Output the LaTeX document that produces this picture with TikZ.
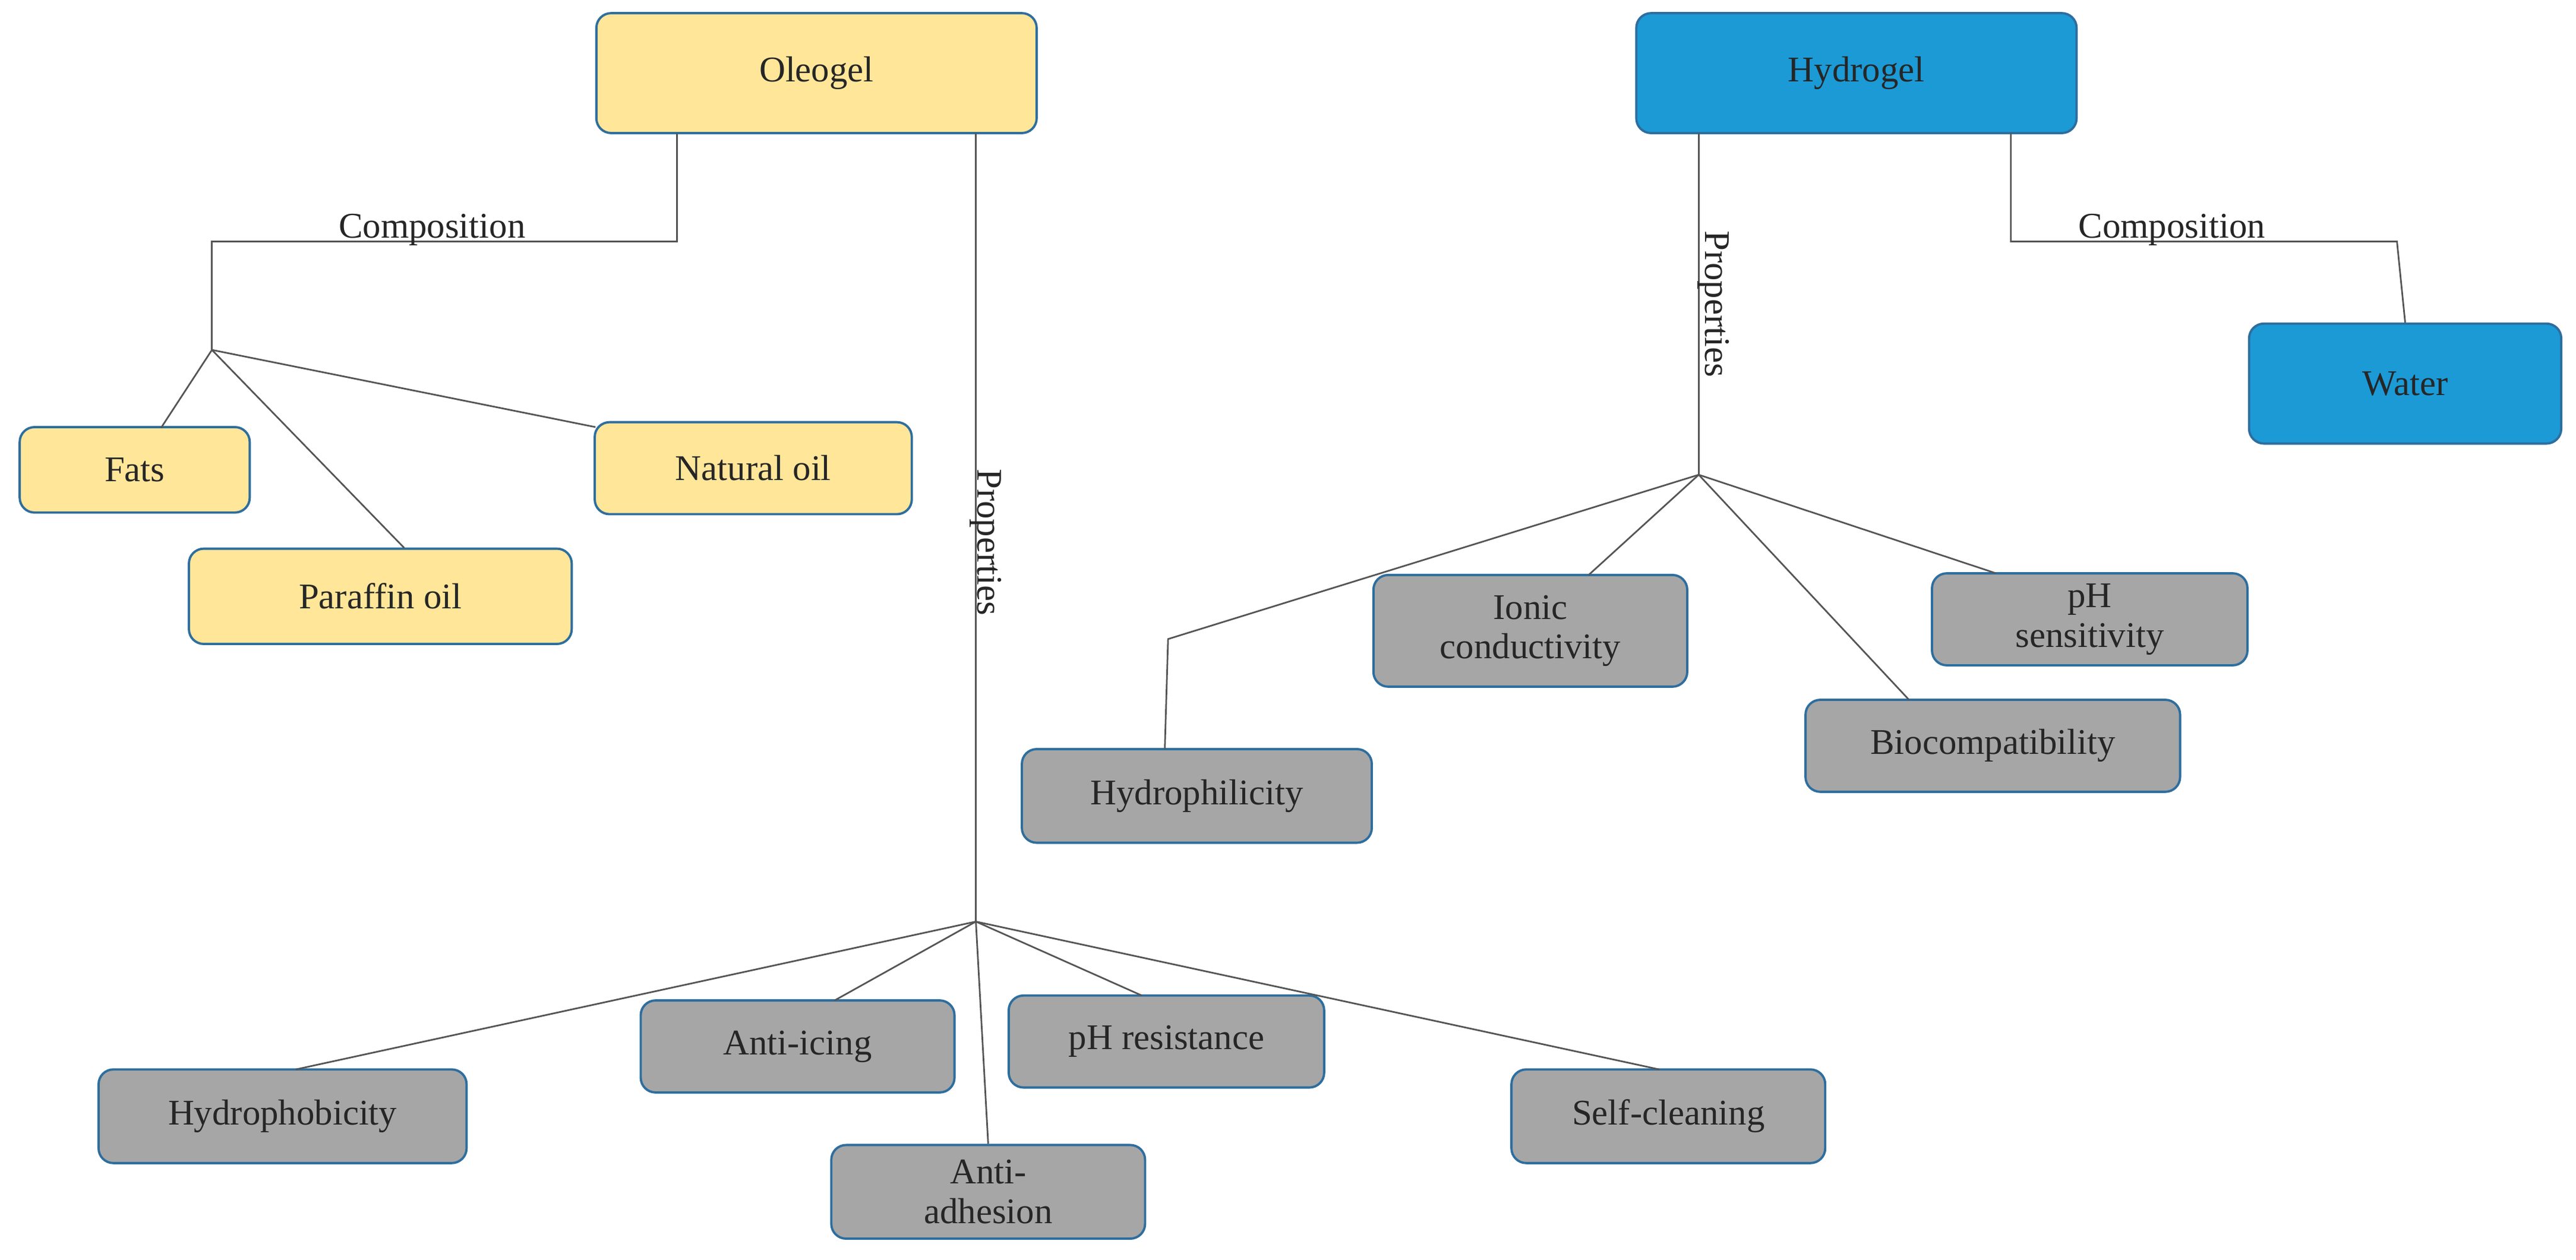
\documentclass[tikz,border=0pt]{standalone}
\usepackage{fontspec}
\setmainfont{Liberation Serif}
\begin{document}
\begin{tikzpicture}[x=1pt,y=-1pt,
 box/.style={draw=bord,line width=1.4pt,rounded corners=9pt,inner sep=0pt,align=center,font=\fontsize{22}{24}\selectfont,text=txt},
 yel/.style={box,fill=yel},
 blu/.style={box,fill=blu},
 gry/.style={box,fill=gry},
 ln/.style={draw=lin,line width=1pt},
 lab/.style={font=\fontsize{22}{24}\selectfont,text=txt,inner sep=1pt}]
\definecolor{yel}{HTML}{FFE699}
\definecolor{blu}{HTML}{1B9AD6}
\definecolor{gry}{HTML}{A6A6A6}
\definecolor{bord}{HTML}{2E6E9E}
\definecolor{lin}{HTML}{555555}
\definecolor{txt}{HTML}{262626}
\useasboundingbox (0,0) rectangle (1568,767);
\newcommand{\bx}[6]{\node[#1,minimum width=#4-#2,minimum height=#5-#3] (#6) at ({(#2+#4)/2},{(#3+#5)/2})}
\bx{yel}{363}{8}{631}{81}{oleo} {Oleogel};
\bx{blu}{996}{8}{1264}{81}{hydro} {Hydrogel};
\bx{blu}{1369}{197}{1559}{270}{water} {Water};
\bx{yel}{12}{260}{152}{312}{fats} {Fats};
\bx{yel}{115}{334}{348}{392}{paraf} {Paraffin oil};
\bx{yel}{362}{257}{555}{313}{nat} {Natural oil};
\bx{gry}{622}{456}{835}{513}{hphil} {Hydrophilicity};
\bx{gry}{836}{350}{1027}{418}{ionic} {Ionic\\conductivity};
\bx{gry}{1176}{349}{1368}{405}{phs} {pH\\sensitivity};
\bx{gry}{1099}{426}{1327}{482}{bio} {Biocompatibility};
\bx{gry}{60}{651}{284}{708}{hphob} {Hydrophobicity};
\bx{gry}{390}{609}{581}{665}{ice} {Anti-icing};
\bx{gry}{614}{606}{806}{662}{phr} {pH resistance};
\bx{gry}{920}{651}{1111}{708}{self} {Self-cleaning};
\bx{gry}{506}{697}{697}{754}{adh} {Anti-\\adhesion};
\coordinate (oc1) at (412,81); \coordinate (oc2) at (412,147);
\coordinate (oc3) at (129,147); \coordinate (oh) at (129,213);
\coordinate (op1) at (594,81); \coordinate (oph) at (594,561);
\coordinate (hp1) at (1034,81); \coordinate (hph) at (1034,289);
\coordinate (hb) at (711,389);
\coordinate (hc1) at (1224,81); \coordinate (hc2) at (1224,147); \coordinate (hc3) at (1459,147);
\draw[ln] (oc1) -- (oc2) -- (oc3) -- (oh);
\node[lab] at (263,140) {Composition};
\draw[ln] (oh) -- (98,260.5);
\draw[ln] (oh) -- (246,333.5);
\draw[ln] (oh) -- (362.5,260);
\draw[ln] (op1) -- (oph);
\node[lab,rotate=-90] at (600,330) {Properties};
\draw[ln] (oph) -- (180,651); \draw[ln] (oph) -- (508,609);
\draw[ln] (oph) -- (695,606); \draw[ln] (oph) -- (1010,651);
\draw[ln] (oph) -- (adh.north);
\draw[ln] (hp1) -- (hph);
\node[lab,rotate=-90] at (1043,185) {Properties};
\draw[ln] (hph) -- (hb) -- (709,456);
\draw[ln] (hph) -- (967,350); \draw[ln] (hph) -- (1162,426); \draw[ln] (hph) -- (1215,349);
\draw[ln] (hc1) -- (hc2) -- (hc3) -- (water.north);
\node[lab] at (1322,140) {Composition};
\end{tikzpicture}
\end{document}
